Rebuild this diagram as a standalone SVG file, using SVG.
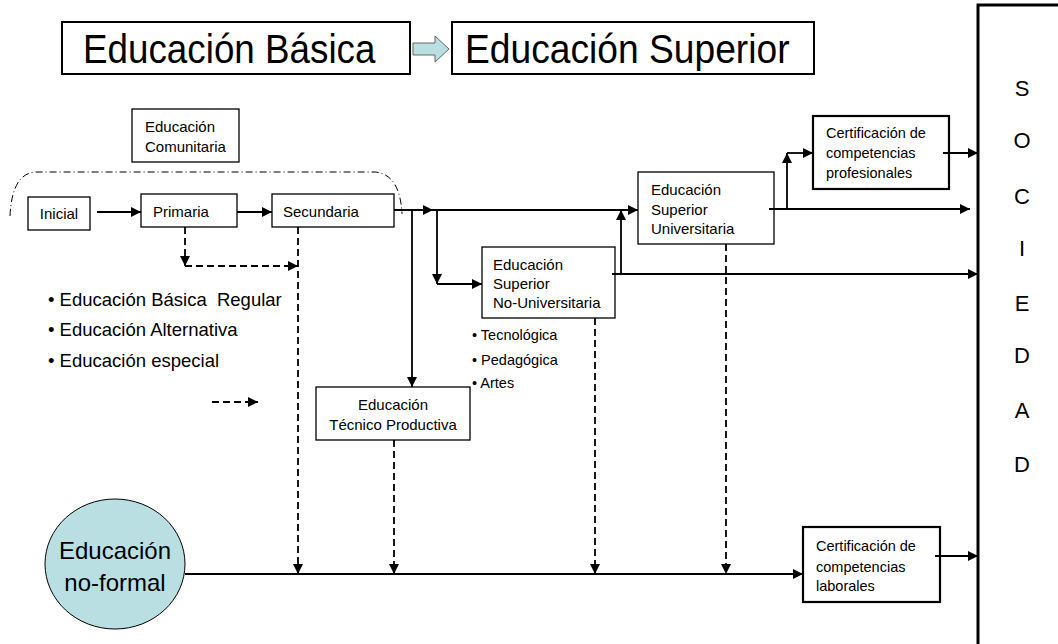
<svg xmlns="http://www.w3.org/2000/svg" width="1058" height="644" viewBox="0 0 1058 644">
<style>
text{font-family:"Liberation Sans",Arial,sans-serif;fill:#000}
.box{fill:#fff;stroke:#000;stroke-width:1.3}
.tbox{fill:#fff;stroke:#000;stroke-width:2}
.cbox{fill:#fff;stroke:#000;stroke-width:2.2}
.c{fill:none;stroke:#000;stroke-width:1.8}
.d{fill:none;stroke:#000;stroke-width:1.8;stroke-dasharray:7 4}
.t15{font-size:15px}
.tc{font-size:14.5px}
.tl{font-size:14.5px}
.tb{font-size:18.5px}
</style>
<defs>
<marker id="ah" viewBox="0 0 10 10" refX="10" refY="5" markerWidth="10" markerHeight="10" markerUnits="userSpaceOnUse" orient="auto"><path d="M0,0 L10,5 L0,10 z" fill="#000"/></marker>
</defs>
<rect width="1058" height="644" fill="#fff"/>

<g id="basica">
<rect class="tbox" x="62" y="22" width="348" height="52"/>
<text transform="translate(83,63) scale(0.92,1)" font-size="40">Educación Básica</text>
</g>
<g id="flecha-top">
<path d="M413,43 H435 V36 L449,49 L435,62 V55 H413 Z" fill="#b9dfe3" stroke="#666" stroke-width="1"/>
</g>
<g id="superior">
<rect class="tbox" x="452" y="22" width="362" height="52"/>
<text transform="translate(465,63) scale(0.93,1)" font-size="40">Educación Superior</text>
</g>

<g id="sociedad">
<rect x="978" y="5" width="100" height="700" fill="#fff" stroke="#000" stroke-width="3"/>
<g font-size="22" text-anchor="middle">
<text x="1022" y="96">S</text>
<text x="1022" y="148">O</text>
<text x="1022" y="204">C</text>
<text x="1022" y="256">I</text>
<text x="1022" y="311">E</text>
<text x="1022" y="363">D</text>
<text x="1022" y="418">A</text>
<text x="1022" y="472">D</text>
</g>
</g>

<g id="comunitaria">
<rect class="box" x="132" y="109" width="107" height="53"/>
<text class="t15" x="145" y="132">Educación</text>
<text class="t15" x="145" y="152">Comunitaria</text>
</g>
<g id="comunitaria-contorno">
<path d="M10,216 Q12,173 36,172 L375,172 Q400,174 402,214" fill="none" stroke="#000" stroke-width="1" stroke-dasharray="7 3 1 3"/>
</g>

<g id="inicial">
<rect class="box" x="28" y="197" width="62" height="33"/>
<text class="t15" x="59" y="219" text-anchor="middle">Inicial</text>
</g>
<g id="primaria">
<rect class="box" x="141" y="194" width="96" height="33"/>
<text class="t15" x="153" y="217">Primaria</text>
</g>
<g id="secundaria">
<rect class="box" x="272" y="194" width="122" height="33"/>
<text class="t15" x="283" y="217">Secundaria</text>
</g>

<g id="lista-basica">
<text class="tb" x="48" y="306">• Educación Básica&#160; Regular</text>
<text class="tb" x="48" y="336">• Educación Alternativa</text>
<text class="tb" x="48" y="367">• Educación especial</text>
</g>

<g id="tecnico">
<rect class="box" x="316" y="387" width="154" height="53"/>
<text class="t15" x="393" y="410" text-anchor="middle">Educación</text>
<text class="t15" x="393" y="430" text-anchor="middle">Técnico Productiva</text>
</g>

<g id="esnu">
<rect class="box" x="482" y="247" width="133" height="71"/>
<text class="t15" x="493" y="270">Educación</text>
<text class="t15" x="493" y="289">Superior</text>
<text class="t15" x="493" y="308">No-Universitaria</text>
</g>
<g id="lista-esnu">
<text class="tl" x="472" y="340">• Tecnológica</text>
<text class="tl" x="472" y="365">• Pedagógica</text>
<text class="tl" x="472" y="388">• Artes</text>
</g>

<g id="esu">
<rect class="box" x="638" y="172" width="136" height="72"/>
<text class="t15" x="651" y="195">Educación</text>
<text class="t15" x="651" y="215">Superior</text>
<text class="t15" x="651" y="234">Universitaria</text>
</g>

<g id="cert-prof">
<rect class="cbox" x="813" y="116" width="136" height="73"/>
<text class="tc" x="826" y="138">Certificación de</text>
<text class="tc" x="826" y="158">competencias</text>
<text class="tc" x="826" y="178">profesionales</text>
</g>

<g id="no-formal">
<ellipse cx="115" cy="564" rx="70" ry="65" fill="#b9dfe3" stroke="#000" stroke-width="1"/>
<text x="115" y="559" font-size="24" text-anchor="middle">Educación</text>
<text x="115" y="591" font-size="24" text-anchor="middle">no-formal</text>
</g>

<g id="cert-lab">
<rect class="cbox" x="803" y="527" width="137" height="75"/>
<text class="tc" x="816" y="551">Certificación de</text>
<text class="tc" x="816" y="572">competencias</text>
<text class="tc" x="816" y="591">laborales</text>
</g>

<g id="connectors">
<path class="c" d="M97,212 H141" marker-end="url(#ah)"/>
<path class="c" d="M237,212 H272" marker-end="url(#ah)"/>
<path class="c" d="M394,210 H433" marker-end="url(#ah)"/>
<path class="c" d="M433,210 H638" marker-end="url(#ah)"/>
<path class="c" d="M412,210 V387" marker-end="url(#ah)"/>
<path class="c" d="M437,210 V284" marker-end="url(#ah)"/>
<path class="c" d="M437,284 H482" marker-end="url(#ah)"/>
<path class="c" d="M612,274 H978" marker-end="url(#ah)"/>
<path class="c" d="M621,274 V210" marker-end="url(#ah)"/>
<path class="c" d="M769,209 H970" marker-end="url(#ah)"/>
<path class="c" d="M787,209 V153" marker-end="url(#ah)"/>
<path class="c" d="M787,153 H813" marker-end="url(#ah)"/>
<path class="c" d="M943,153 H978" marker-end="url(#ah)"/>
<path class="c" d="M185,574 H803" marker-end="url(#ah)"/>
<path class="c" d="M935,556 H978" marker-end="url(#ah)"/>
<path class="d" d="M185,227 V266" marker-end="url(#ah)"/>
<path class="d" d="M185,266 H298" marker-end="url(#ah)"/>
<path class="d" d="M298,227 V574" marker-end="url(#ah)"/>
<path class="d" d="M394,440 V574" marker-end="url(#ah)"/>
<path class="d" d="M595,318 V574" marker-end="url(#ah)"/>
<path class="d" d="M726,244 V574" marker-end="url(#ah)"/>
<path class="d" d="M212,402 H258" marker-end="url(#ah)"/>
</g>
</svg>
